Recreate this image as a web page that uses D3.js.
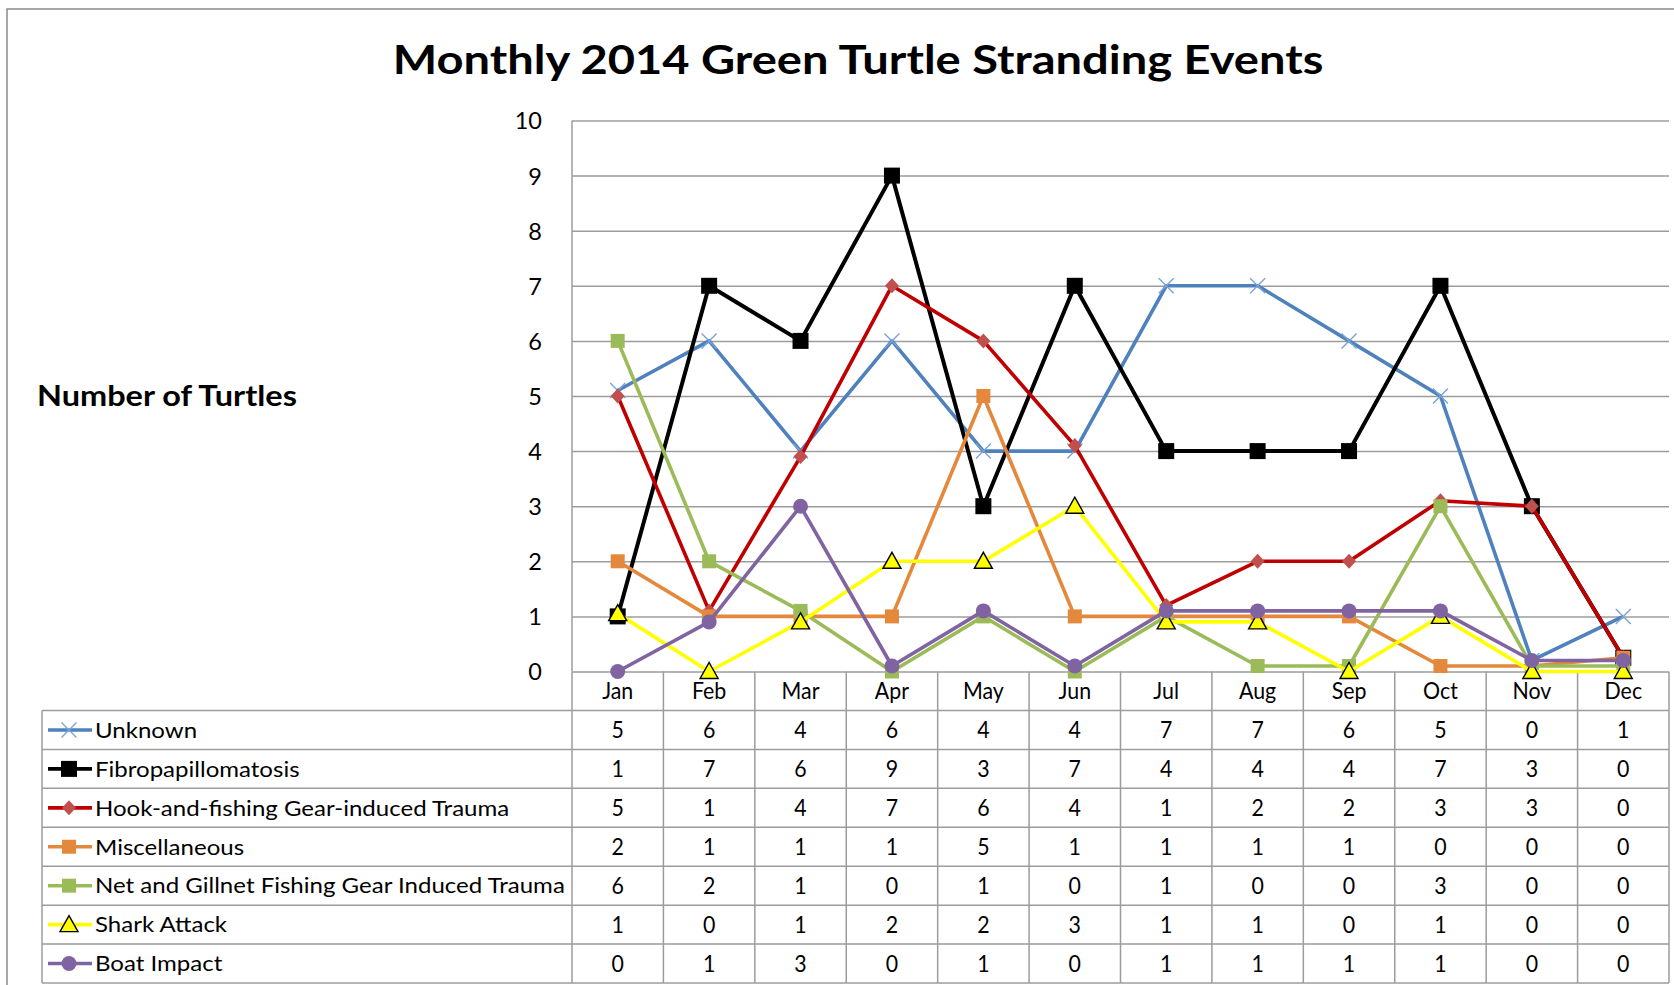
<!DOCTYPE html>
<html><head><meta charset="utf-8">
<script src="https://cdn.jsdelivr.net/npm/d3@7"></script>
<style>html,body{margin:0;padding:0;background:#fff;}svg{display:block;}</style>
</head><body>
<svg id="c" width="1674" height="985"></svg>
<script>
const months = ["Jan","Feb","Mar","Apr","May","Jun","Jul","Aug","Sep","Oct","Nov","Dec"];
const seriesNames = ["Unknown","Fibropapillomatosis","Hook-and-fishing Gear-induced Trauma","Miscellaneous","Net and Gillnet Fishing Gear Induced Trauma","Shark Attack","Boat Impact"];
const yTicks = [0,1,2,3,4,5,6,7,8,9,10];

// table values (as printed)
const unknownTable = [5,6,4,6,4,4,7,7,6,5,0,1];
const fibroTable   = [1,7,6,9,3,7,4,4,4,7,3,0];
const hookTable    = [5,1,4,7,6,4,1,2,2,3,3,0];
const miscTable    = [2,1,1,1,5,1,1,1,1,0,0,0];
const netTable     = [6,2,1,0,1,0,1,0,0,3,0,0];
const sharkTable   = [1,0,1,2,2,3,1,1,0,1,0,0];
const boatTable    = [0,1,3,0,1,0,1,1,1,1,0,0];

// plotted positions (as drawn, slightly offset in the original to avoid overlap)
const unknownPlot = [5.1,6,4,6,4,4,7,7,6,5,0.2,1];
const fibroPlot   = [1,7,6,9,3,7,4,4,4,7,3,0.25];
const hookPlot    = [5,1.1,3.9,7,6,4.1,1.2,2,2,3.1,3,0.25];
const miscPlot    = [2,1,1,1,5,1,1,1,1,0.1,0.1,0.25];
const netPlot     = [6,2,1.1,0,1,0,1,0.1,0.1,3,0.1,0.1];
const sharkPlot   = [1.05,0,0.9,2,2,3,0.9,0.9,0,1,0,0];
const boatPlot    = [0,0.9,3,0.1,1.1,0.1,1.1,1.1,1.1,1.1,0.2,0.2];

const lineColors   = ["#4F81BD","#000000","#C00000","#E4883C","#9BBB59","#FFFF00","#8064A2"];
const markerColors = ["#7AA3D6","#000000","#C0504D","#E4883C","#9BBB59","#FFFF00","#8064A2"];
const markerTypes  = ["x","bigsquare","diamond","square","square","triangle","circle"];

const tables = [unknownTable,fibroTable,hookTable,miscTable,netTable,sharkTable,boatTable];
const plots  = [unknownPlot,fibroPlot,hookPlot,miscPlot,netPlot,sharkPlot,boatPlot];

const FONT = "Lato, 'Open Sans', sans-serif";
const svg = d3.select("#c");

const L = 572, R = 1669, T = 120.5, B = 671.5;
const tableLeft = 42, rowTop = 710.5, rowH = 38.93;
const gridColor = "#9c9c9c";

const x = d3.scaleBand().domain(months).range([L, R]);
const y = d3.scaleLinear().domain([0,10]).range([B, T]);
const cx = m => x(m) + x.bandwidth()/2;

// horizontal squeeze factor so Lato mimics a narrower face at a given width
function fitScale(text, weight, size, target) {
  const t = svg.append("text").attr("font-family", FONT).attr("font-weight", weight)
    .attr("font-size", size).text(text);
  const w = t.node().getComputedTextLength();
  t.remove();
  return target / w;
}
function addText(parent, px, py, str, size, opts = {}) {
  const g = parent.append("g").attr("transform", `translate(${px},${py}) scale(${opts.sx || 1},1)`);
  return g.append("text").attr("x",0).attr("y",0)
    .attr("dy", opts.dy || "0")
    .attr("text-anchor", opts.anchor || "start")
    .attr("font-family", FONT).attr("font-weight", opts.weight || "normal")
    .attr("font-size", size).attr("fill", "#000").text(str);
}

const titleSize = 40, titleSx = fitScale("Monthly 2014 Green Turtle Stranding Events","bold",titleSize,931);
const ylabSize = 29, ylabSx = fitScale("Number of Turtles","bold",ylabSize,260);
const legSize = 21.5, legSx = fitScale("Net and Gillnet Fishing Gear Induced Trauma","normal",legSize,470);
const numSize = 22.5, numSx = 0.95;
const tickSize = 23.5;

// outer border
svg.append("rect").attr("x",7).attr("y",9).attr("width",1700).attr("height",1000)
  .attr("fill","none").attr("stroke","#8a8a8a").attr("stroke-width",1.5);

// title
addText(svg, 858, 74, "Monthly 2014 Green Turtle Stranding Events", titleSize, {weight:"bold", anchor:"middle", sx:titleSx});

// y label
addText(svg, 37, 406, "Number of Turtles", ylabSize, {weight:"bold", sx:ylabSx});

// y axis + gridlines
const yAxis = svg.append("g").attr("transform",`translate(${L},0)`)
  .call(d3.axisLeft(y).tickValues(yTicks).tickSize(-(R-L)).tickPadding(30).tickFormat(d3.format("d")));
yAxis.select(".domain").remove();
yAxis.selectAll(".tick line").attr("stroke",gridColor).attr("stroke-width",1.5);
yAxis.selectAll(".tick text").attr("font-family",FONT).attr("font-size",tickSize).attr("fill","#000")
  .attr("dy","0.36em");

// left axis line
svg.append("line").attr("x1",L).attr("x2",L).attr("y1",T).attr("y2",B)
  .attr("stroke",gridColor).attr("stroke-width",1.5);

// table grid
const rowsY = d3.range(8).map(i => rowTop + i*rowH);
svg.append("g").selectAll("line").data(rowsY).join("line")
  .attr("x1",tableLeft).attr("x2",R).attr("y1",d=>d).attr("y2",d=>d)
  .attr("stroke",gridColor).attr("stroke-width",1.5);
const colX = months.map(m => x(m)).concat([R]);
svg.append("g").selectAll("line").data(colX).join("line")
  .attr("x1",d=>d).attr("x2",d=>d).attr("y1",B).attr("y2",rowsY[7])
  .attr("stroke",gridColor).attr("stroke-width",1.5);
svg.append("line").attr("x1",tableLeft).attr("x2",tableLeft).attr("y1",rowTop).attr("y2",rowsY[7])
  .attr("stroke",gridColor).attr("stroke-width",1.5);

// month labels
const monthG = svg.append("g");
months.forEach(m => addText(monthG, cx(m), (B+rowTop)/2, m, numSize, {anchor:"middle", dy:"0.36em", sx:numSx}));

// marker drawing
function drawMarker(g, type, fill, px, py) {
  if (type === "x") {
    const s = 7.5;
    g.append("path").attr("d",`M${px-s},${py-s}L${px+s},${py+s}M${px-s},${py+s}L${px+s},${py-s}`)
      .attr("stroke",fill).attr("stroke-width",1.4).attr("fill","none");
  } else if (type === "bigsquare") {
    g.append("rect").attr("x",px-8).attr("y",py-8).attr("width",16).attr("height",16).attr("fill",fill);
  } else if (type === "square") {
    g.append("rect").attr("x",px-7).attr("y",py-7).attr("width",14).attr("height",14).attr("fill",fill);
  } else if (type === "diamond") {
    g.append("path").attr("d",`M${px},${py-7.5}L${px+7},${py}L${px},${py+7.5}L${px-7},${py}Z`).attr("fill",fill);
  } else if (type === "triangle") {
    g.append("path").attr("d",`M${px},${py-9}L${px+9},${py+7}L${px-9},${py+7}Z`)
      .attr("fill",fill).attr("stroke","#000").attr("stroke-width",1.4);
  } else if (type === "circle") {
    g.append("circle").attr("cx",px).attr("cy",py).attr("r",7.5).attr("fill",fill);
  }
}

// series lines
const line = d3.line().x((d,i)=>cx(months[i])).y(d=>y(d));
plots.forEach((vals, s) => {
  const g = svg.append("g");
  g.append("path").attr("d", line(vals)).attr("fill","none")
    .attr("stroke", lineColors[s]).attr("stroke-width", s===1 ? 4 : 3.6).attr("stroke-linejoin","round");
  vals.forEach((v,i) => drawMarker(g, markerTypes[s], markerColors[s], cx(months[i]), y(v)));
});

// table rows: legend keys, names, values
seriesNames.forEach((name, s) => {
  const cy = rowsY[s] + rowH/2;
  const g = svg.append("g");
  g.append("line").attr("x1",48).attr("x2",92).attr("y1",cy).attr("y2",cy)
    .attr("stroke",lineColors[s]).attr("stroke-width",3.6);
  drawMarker(g, markerTypes[s], markerColors[s], 69, cy);
  addText(g, 95, cy, name, legSize, {dy:"0.36em", sx:legSx});
  tables[s].forEach((v,i) => addText(g, cx(months[i]), cy, v, numSize, {anchor:"middle", dy:"0.36em", sx:numSx}));
});
</script>
</body></html>
